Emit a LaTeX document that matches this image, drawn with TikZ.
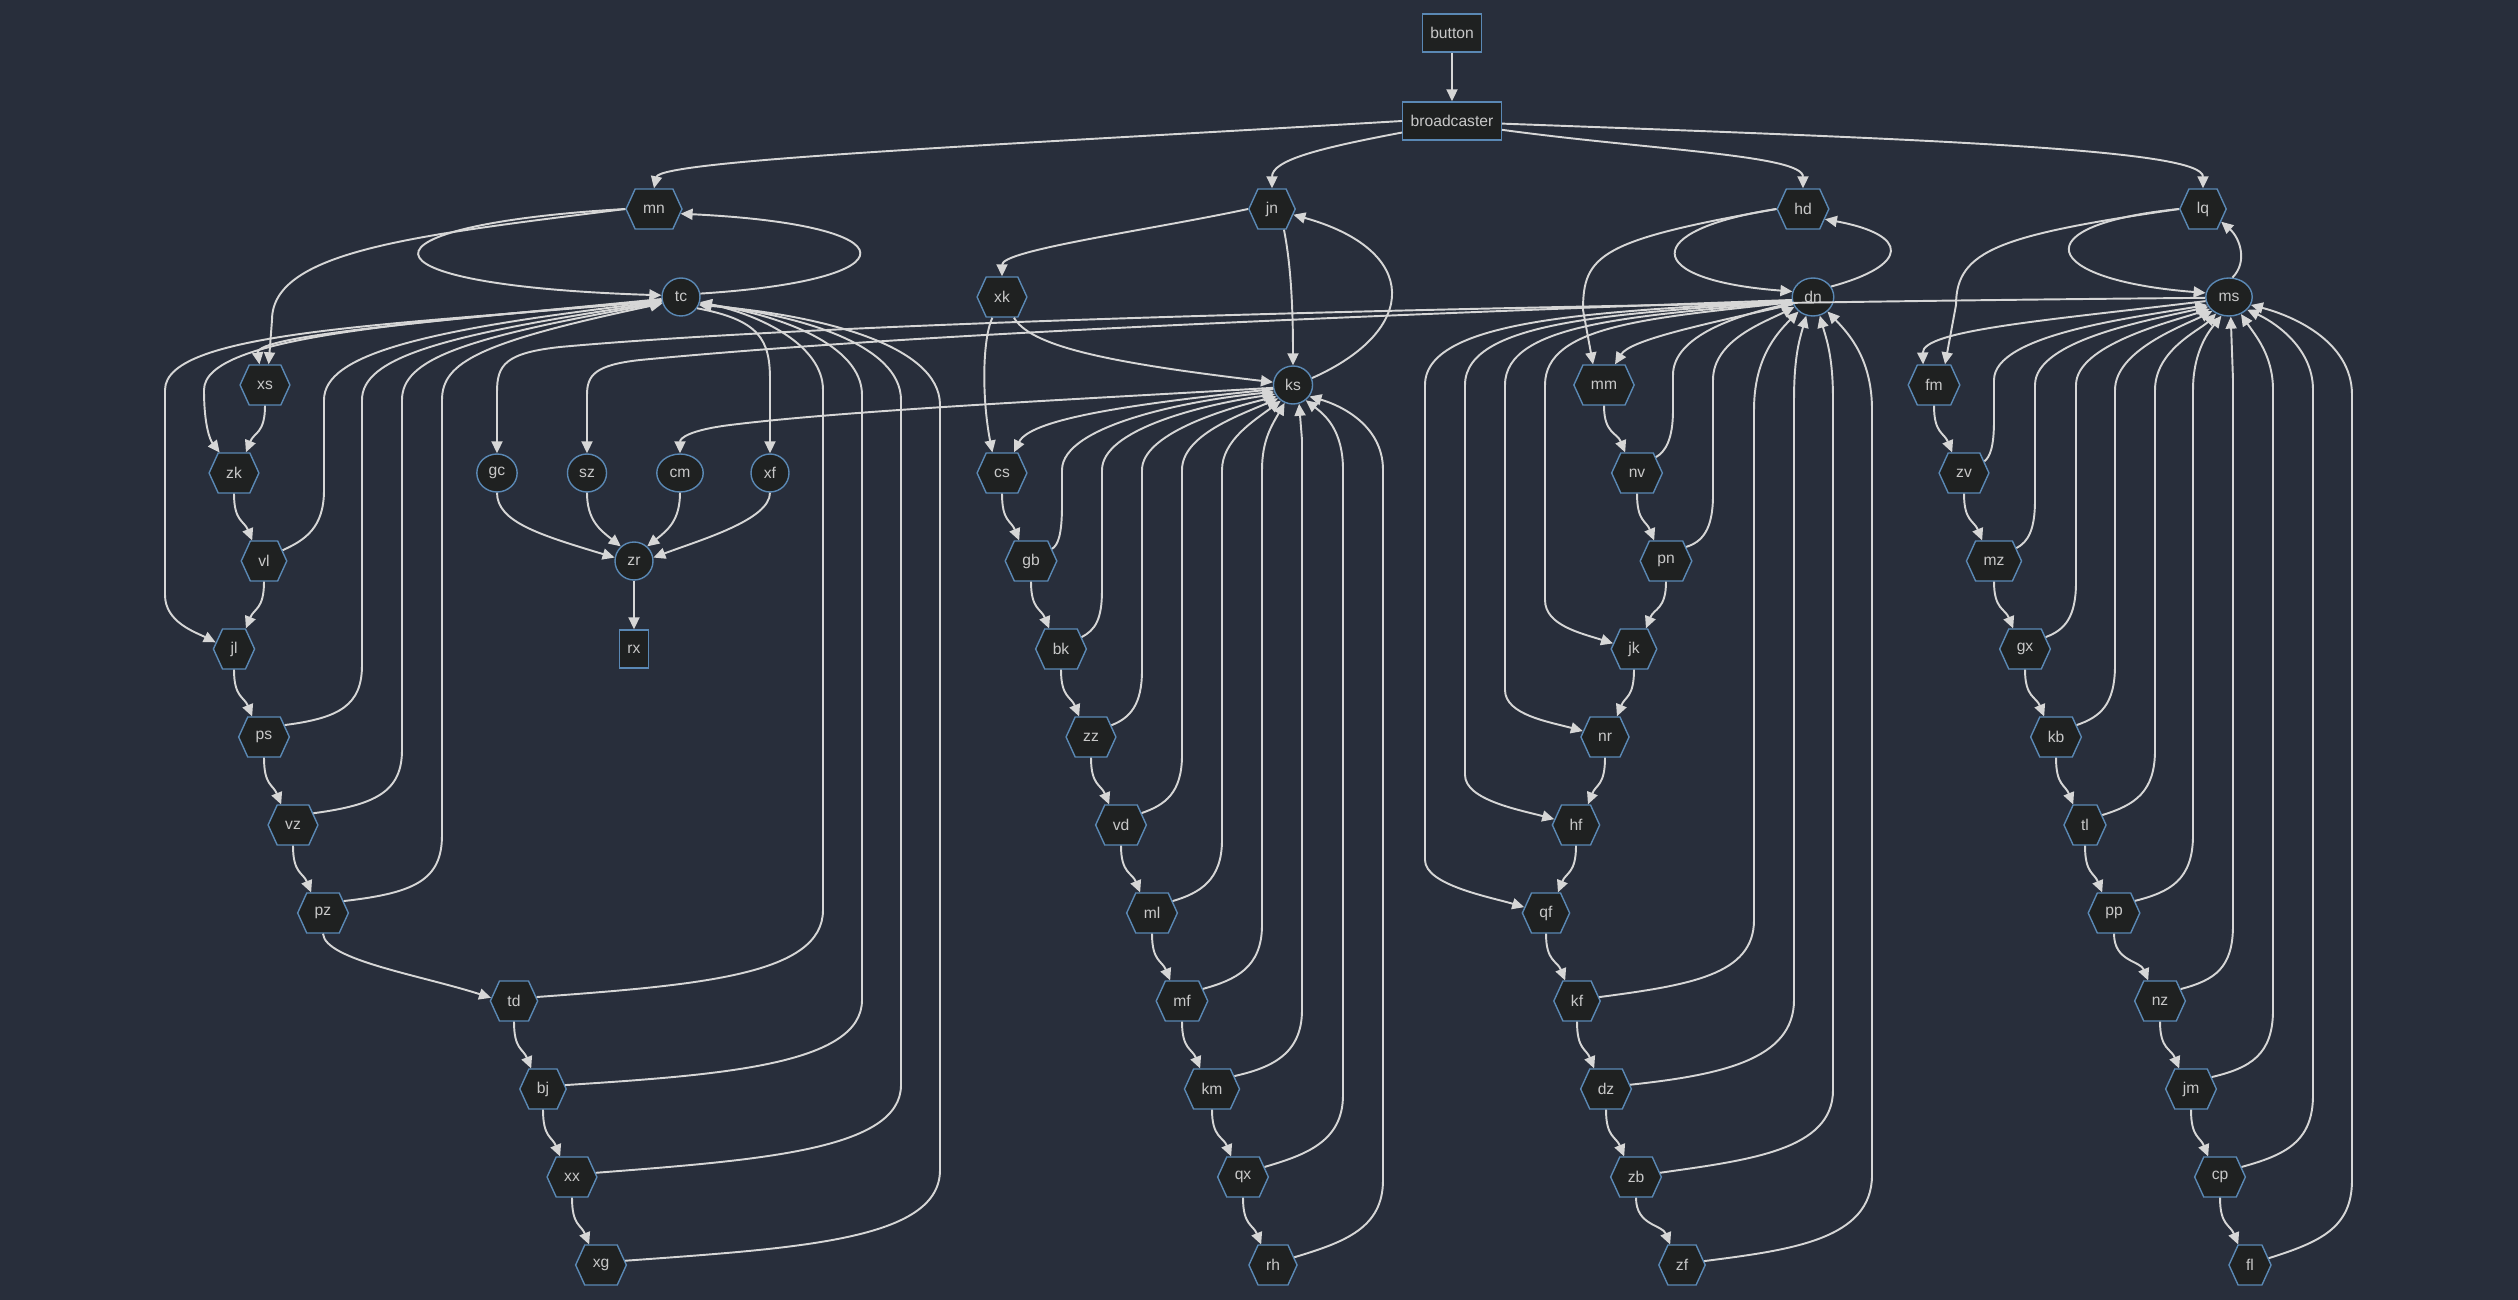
\documentclass[tikz,border=0pt]{standalone}
\usepackage{fontspec}
\setmainfont{Liberation Sans}
\usetikzlibrary{shapes.geometric,shapes.symbols,arrows.meta,calc}
\definecolor{bg}{HTML}{282E3B}
\definecolor{nfill}{HTML}{1F2121}
\definecolor{nborder}{HTML}{5A88B4}
\definecolor{ntext}{HTML}{C8C8C8}
\definecolor{ecol}{HTML}{D6D6D6}
\newcommand\lnkR[2]{\draw[edge] (#1.south) .. controls ($(#1.south)+(0,28)$) and ($(#2.120)+(-8,-20)$) .. (#2.120);}
\newcommand\lnkL[2]{\draw[edge] (#1.south) .. controls ($(#1.south)+(0,28)$) and ($(#2.60)+(8,-20)$) .. (#2.60);}
\begin{document}
\begin{tikzpicture}[x=0.02cm,y=-0.02cm,
  every node/.style={font=\fontsize{8.9}{10}\selectfont, text=ntext},
  boxn/.style={rectangle, draw=nborder, fill=nfill, line width=0.8pt, minimum height=0.76cm, inner xsep=0.16cm, inner ysep=0pt},
  hexn/.style={signal, signal to=east and west, signal pointer angle=131, draw=nborder, fill=nfill, line width=0.8pt, minimum height=0.8cm, inner xsep=0.16cm, inner ysep=0pt},
  circn/.style={ellipse, draw=nborder, fill=nfill, line width=0.8pt, minimum height=0.76cm, minimum width=0.76cm, inner xsep=0.12cm, inner ysep=1pt},
  edge/.style={draw=ecol, line width=1.1pt, -{Triangle[length=0.24cm,width=0.22cm]}},
]
\useasboundingbox (0,0) rectangle (2518,1300);
\fill[bg] (0,0) rectangle (2518,1300);

% nodes
\node[boxn] (button) at (1452,33) {button};
\node[boxn] (broadcaster) at (1452,121) {broadcaster};
\node[hexn] (mn) at (654,209) {mn};
\node[hexn] (jn) at (1272,209) {jn};
\node[hexn] (hd) at (1803,209) {hd};
\node[hexn] (lq) at (2203,209) {lq};
\node[circn] (tc) at (681,297) {tc};
\node[hexn] (xk) at (1002,297) {xk};
\node[circn] (dn) at (1813,297) {dn};
\node[circn] (ms) at (2229,297) {ms};
\node[hexn] (xs) at (265,385) {xs};
\node[circn] (ks) at (1293,385) {ks};
\node[hexn] (mm) at (1604,385) {mm};
\node[hexn] (fm) at (1934,385) {fm};
\node[hexn] (zk) at (234,473) {zk};
\node[circn] (gc) at (497,473) {gc};
\node[circn] (sz) at (587,473) {sz};
\node[circn] (cm) at (680,473) {cm};
\node[circn] (xf) at (770,473) {xf};
\node[hexn] (cs) at (1002,473) {cs};
\node[hexn] (nv) at (1637,473) {nv};
\node[hexn] (zv) at (1964,473) {zv};
\node[hexn] (vl) at (264,561) {vl};
\node[circn] (zr) at (634,561) {zr};
\node[hexn] (gb) at (1031,561) {gb};
\node[hexn] (pn) at (1666,561) {pn};
\node[hexn] (mz) at (1994,561) {mz};
\node[hexn] (jl) at (234,649) {jl};
\node[boxn] (rx) at (634,649) {rx};
\node[hexn] (bk) at (1061,649) {bk};
\node[hexn] (jk) at (1634,649) {jk};
\node[hexn] (gx) at (2025,649) {gx};
\node[hexn] (ps) at (264,737) {ps};
\node[hexn] (zz) at (1091,737) {zz};
\node[hexn] (nr) at (1605,737) {nr};
\node[hexn] (kb) at (2056,737) {kb};
\node[hexn] (vz) at (293,825) {vz};
\node[hexn] (vd) at (1121,825) {vd};
\node[hexn] (hf) at (1576,825) {hf};
\node[hexn] (tl) at (2085,825) {tl};
\node[hexn] (pz) at (323,913) {pz};
\node[hexn] (ml) at (1152,913) {ml};
\node[hexn] (qf) at (1546,913) {qf};
\node[hexn] (pp) at (2114,913) {pp};
\node[hexn] (td) at (514,1001) {td};
\node[hexn] (mf) at (1182,1001) {mf};
\node[hexn] (kf) at (1577,1001) {kf};
\node[hexn] (nz) at (2160,1001) {nz};
\node[hexn] (bj) at (543,1089) {bj};
\node[hexn] (km) at (1212,1089) {km};
\node[hexn] (dz) at (1606,1089) {dz};
\node[hexn] (jm) at (2191,1089) {jm};
\node[hexn] (xx) at (572,1177) {xx};
\node[hexn] (qx) at (1243,1177) {qx};
\node[hexn] (zb) at (1636,1177) {zb};
\node[hexn] (cp) at (2220,1177) {cp};
\node[hexn] (xg) at (601,1265) {xg};
\node[hexn] (rh) at (1273,1265) {rh};
\node[hexn] (zf) at (1682,1265) {zf};
\node[hexn] (fl) at (2250,1265) {fl};

% top
\draw[edge] (button) -- (broadcaster);
\draw[edge] (broadcaster.west) .. controls (1000,145) and (660,160) .. (mn.north);
\draw[edge] (broadcaster.193) .. controls (1320,148) and (1272,160) .. (jn.north);
\draw[edge] (broadcaster.-10) .. controls (1650,150) and (1803,155) .. (hd.north);
\draw[edge] (broadcaster.-3) .. controls (1950,140) and (2203,150) .. (lq.north);

% chain 1
\draw[edge] (mn.west) .. controls (420,235) and (272,250) .. (272,320) -- (xs.80);
\draw[edge] (mn.west) .. controls (350,225) and (340,285) .. (tc.175);
\draw[edge] (tc.10) .. controls (915,280) and (915,225) .. (mn.-10);
\draw[edge] (tc.186) .. controls (450,320) and (255,335) .. (xs.105);
\draw[edge] (tc.189) .. controls (420,322) and (204,335) .. (204,390) .. controls (204,425) and (210,440) .. (zk.125);
\draw[edge] (tc.191) .. controls (400,325) and (165,330) .. (165,390) -- (165,595) .. controls (165,622) and (195,632) .. (jl.160);
\draw[edge] (tc.-35) .. controls (760,320) and (770,340) .. (770,380) -- (xf.north);
\lnkL{xs}{zk}
\lnkR{zk}{vl}
\lnkL{vl}{jl}
\lnkR{jl}{ps}
\lnkR{ps}{vz}
\lnkR{vz}{pz}
\draw[edge] (pz.south) .. controls (325,960) and (420,975) .. (td.172);
\lnkR{td}{bj}
\lnkR{bj}{xx}
\lnkR{xx}{xg}
\draw[edge] (vl.30) .. controls (305,540) and (324,528) .. (324,490) -- (324,400) .. controls (324,355) and (420,330) .. (tc.193);
\draw[edge] (ps.30) .. controls (340,718) and (362,705) .. (362,665) -- (362,400) .. controls (362,358) and (440,335) .. (tc.195);
\draw[edge] (vz.30) .. controls (375,805) and (402,792) .. (402,750) -- (402,400) .. controls (402,360) and (460,338) .. (tc.197);
\draw[edge] (pz.30) .. controls (415,893) and (442,880) .. (442,835) -- (442,400) .. controls (442,362) and (480,342) .. (tc.199);
\draw[edge] (td.10) .. controls (700,985) and (823,975) .. (823,910) -- (823,390) .. controls (823,345) and (760,315) .. (tc.-15);
\draw[edge] (bj.10) .. controls (720,1075) and (862,1065) .. (862,1000) -- (862,395) .. controls (862,345) and (780,315) .. (tc.-18);
\draw[edge] (xx.10) .. controls (760,1160) and (901,1150) .. (901,1085) -- (901,400) .. controls (901,345) and (800,315) .. (tc.-21);
\draw[edge] (xg.10) .. controls (800,1248) and (940,1240) .. (940,1170) -- (940,405) .. controls (940,345) and (820,315) .. (tc.-24);

% final stage
\draw[edge] (gc.south) .. controls (497,522) and (540,535) .. (zr.170);
\draw[edge] (sz.south) .. controls (587,520) and (600,530) .. (zr.132);
\draw[edge] (cm.south) .. controls (680,520) and (668,530) .. (zr.48);
\draw[edge] (xf.south) .. controls (770,520) and (700,540) .. (zr.10);
\draw[edge] (zr) -- (rx);
\draw[edge] (ms.182) .. controls (1400,305) and (800,325) .. (560,347) .. controls (505,353) and (497,365) .. (497,392) -- (gc.north);
\draw[edge] (dn.188) .. controls (1300,318) and (900,335) .. (640,360) .. controls (595,365) and (587,375) .. (587,395) -- (sz.north);
\draw[edge] (ks.188) .. controls (1100,398) and (850,410) .. (730,425) .. controls (690,430) and (680,438) .. (cm.north);

% chain 2
\draw[edge] (jn.west) .. controls (1150,230) and (1002,250) .. (xk.north);
\draw[edge] (jn.-60) .. controls (1290,260) and (1293,300) .. (ks.north);
\draw[edge] (ks.20) .. controls (1420,330) and (1420,250) .. (jn.-15);
\draw[edge] (xk.-60) .. controls (1030,345) and (1100,362) .. (ks.172);
\draw[edge] (xk.-115) .. controls (982,340) and (982,400) .. (cs.115);
\draw[edge] (ks.192) .. controls (1120,405) and (1030,420) .. (cs.60);
\lnkR{cs}{gb}
\lnkR{gb}{bk}
\lnkR{bk}{zz}
\lnkR{zz}{vd}
\lnkR{vd}{ml}
\lnkR{ml}{mf}
\lnkR{mf}{km}
\lnkR{km}{qx}
\lnkR{qx}{rh}
\draw[edge] (gb.30) .. controls (1058,545) and (1062,535) .. (1062,505) -- (1062,470) .. controls (1062,425) and (1190,400) .. (ks.200);
\draw[edge] (bk.30) .. controls (1095,630) and (1102,620) .. (1102,590) -- (1102,470) .. controls (1102,430) and (1200,405) .. (ks.207);
\draw[edge] (zz.30) .. controls (1130,718) and (1142,705) .. (1142,670) -- (1142,470) .. controls (1142,435) and (1220,410) .. (ks.215);
\draw[edge] (vd.30) .. controls (1165,805) and (1182,793) .. (1182,755) -- (1182,470) .. controls (1182,435) and (1240,415) .. (ks.222);
\draw[edge] (ml.30) .. controls (1200,893) and (1222,880) .. (1222,840) -- (1222,470) .. controls (1222,440) and (1255,420) .. (ks.232);
\draw[edge] (mf.30) .. controls (1235,980) and (1262,968) .. (1262,925) -- (1262,470) .. controls (1262,440) and (1272,425) .. (ks.245);
\draw[edge] (km.30) .. controls (1270,1068) and (1302,1055) .. (1302,1010) -- (1302,440) -- (ks.-72);
\draw[edge] (qx.25) .. controls (1305,1155) and (1343,1142) .. (1343,1095) -- (1343,470) .. controls (1343,430) and (1325,415) .. (ks.-50);
\draw[edge] (rh.20) .. controls (1345,1242) and (1383,1228) .. (1383,1180) -- (1383,470) .. controls (1383,425) and (1340,405) .. (ks.-35);

% chain 3
\draw[edge] (hd.west) .. controls (1600,240) and (1583,255) .. (1583,310) -- (mm.118);
\draw[edge] (hd.west) .. controls (1640,230) and (1640,280) .. (dn.165);
\draw[edge] (dn.30) .. controls (1910,265) and (1910,235) .. (hd.-25);
\draw[edge] (dn.200) .. controls (1700,325) and (1630,340) .. (mm.62);
\lnkR{mm}{nv}
\lnkR{nv}{pn}
\lnkL{pn}{jk}
\lnkL{jk}{nr}
\lnkL{nr}{hf}
\lnkL{hf}{qf}
\lnkR{qf}{kf}
\lnkR{kf}{dz}
\lnkR{dz}{zb}
\lnkR{zb}{zf}
\draw[edge] (nv.40) .. controls (1665,452) and (1673,440) .. (1673,410) -- (1673,375) .. controls (1673,335) and (1740,315) .. (dn.196);
\draw[edge] (pn.35) .. controls (1702,542) and (1713,530) .. (1713,495) -- (1713,380) .. controls (1713,340) and (1765,322) .. (dn.208);
\draw[edge] (kf.10) .. controls (1690,985) and (1754,975) .. (1754,920) -- (1754,410) .. controls (1754,360) and (1775,335) .. (dn.225);
\draw[edge] (dz.10) .. controls (1720,1075) and (1794,1060) .. (1794,1000) -- (1794,400) .. controls (1794,355) and (1800,338) .. (dn.250);
\draw[edge] (zb.10) .. controls (1750,1160) and (1833,1150) .. (1833,1090) -- (1833,400) .. controls (1833,355) and (1826,338) .. (dn.290);
\draw[edge] (zf.10) .. controls (1790,1250) and (1872,1240) .. (1872,1175) -- (1872,410) .. controls (1872,360) and (1850,335) .. (dn.315);
\draw[edge] (dn.194) .. controls (1650,318) and (1545,325) .. (1545,385) -- (1545,600) .. controls (1545,625) and (1580,633) .. (jk.165);
\draw[edge] (dn.192) .. controls (1640,316) and (1505,322) .. (1505,385) -- (1505,690) .. controls (1505,715) and (1550,722) .. (nr.165);
\draw[edge] (dn.190) .. controls (1630,314) and (1465,318) .. (1465,385) -- (1465,775) .. controls (1465,800) and (1520,810) .. (hf.165);
\draw[edge] (dn.189) .. controls (1620,312) and (1425,315) .. (1425,385) -- (1425,860) .. controls (1425,885) and (1490,897) .. (qf.165);

% chain 4
\draw[edge] (lq.west) .. controls (2000,235) and (1956,250) .. (1956,305) -- (fm.62);
\draw[edge] (lq.west) .. controls (2020,225) and (2040,280) .. (ms.170);
\draw[edge] (ms.80) .. controls (2248,262) and (2240,238) .. (lq.-35);
\draw[edge] (ms.190) .. controls (2050,320) and (1922,330) .. (fm.118);
\lnkR{fm}{zv}
\lnkR{zv}{mz}
\lnkR{mz}{gx}
\lnkR{gx}{kb}
\lnkR{kb}{tl}
\lnkR{tl}{pp}
\lnkR{pp}{nz}
\lnkR{nz}{jm}
\lnkR{jm}{cp}
\lnkR{cp}{fl}
\draw[edge] (zv.30) .. controls (1990,457) and (1994,447) .. (1994,420) -- (1994,380) .. controls (1994,335) and (2130,318) .. (ms.200);
\draw[edge] (mz.30) .. controls (2028,542) and (2035,530) .. (2035,500) -- (2035,385) .. controls (2035,340) and (2150,320) .. (ms.205);
\draw[edge] (gx.30) .. controls (2065,630) and (2076,617) .. (2076,582) -- (2076,385) .. controls (2076,345) and (2170,322) .. (ms.212);
\draw[edge] (kb.30) .. controls (2100,717) and (2115,705) .. (2115,665) -- (2115,390) .. controls (2115,350) and (2185,325) .. (ms.220);
\draw[edge] (tl.30) .. controls (2135,805) and (2155,792) .. (2155,750) -- (2155,390) .. controls (2155,350) and (2200,330) .. (ms.232);
\draw[edge] (pp.30) .. controls (2170,892) and (2193,880) .. (2193,835) -- (2193,390) .. controls (2193,350) and (2210,330) .. (ms.248);
\draw[edge] (nz.30) .. controls (2215,980) and (2233,968) .. (2233,925) -- (2233,380) -- (ms.-85);
\draw[edge] (jm.30) .. controls (2250,1068) and (2273,1055) .. (2273,1010) -- (2273,390) .. controls (2273,355) and (2255,335) .. (ms.-55);
\draw[edge] (cp.25) .. controls (2285,1155) and (2313,1142) .. (2313,1095) -- (2313,390) .. controls (2313,345) and (2270,320) .. (ms.-35);
\draw[edge] (fl.20) .. controls (2320,1242) and (2352,1228) .. (2352,1180) -- (2352,395) .. controls (2352,340) and (2290,315) .. (ms.-20);
\end{tikzpicture}
\end{document}
